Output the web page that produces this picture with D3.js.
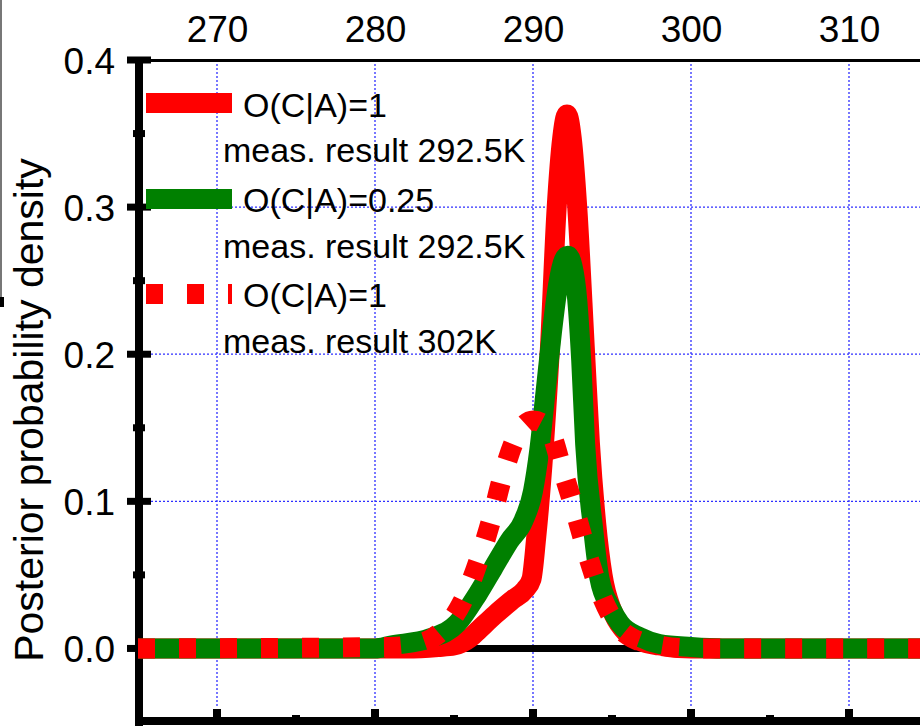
<!DOCTYPE html>
<meta charset="utf-8">
<script src="https://d3js.org/d3.v7.min.js"></script>
<style>
body {
  margin: 0;
  padding: 0;
  background: #fff;
}
svg text {
  font-family: 'Liberation Sans', Arial, sans-serif;
  fill: #000;
}
.grid {
  stroke: #2f2fff;
  stroke-width: 1.3;
  stroke-dasharray: 2,2;
}
</style>
<body>
<div id="my_dataviz"></div>
<script>

// temperature (K) vs posterior probability density
var redSolid = [[265,0],[282,0],[284,0.001],[285,0.002],[286,0.007],[286.6,0.013],[287.6,0.023],
  [288.7,0.033],[289.5,0.04],[289.9,0.047],[290.2,0.075],[290.6,0.125],[291.05,0.2],[291.5,0.3],
  [291.85,0.347],[292.15,0.363],[292.45,0.347],[292.8,0.3],[293.3,0.2],[293.6,0.14],[294.0,0.085],
  [294.4,0.05],[295.0,0.026],[295.7,0.013],[296.8,0.005],[298,0.002],[300,0],[315,0]];

var greenSolid = [[265,0],[280,0],[281,0.002],[283.5,0.007],[285.2,0.017],[286.5,0.037],
  [287.5,0.055],[288.5,0.073],[289.4,0.087],[290.0,0.107],[290.4,0.135],[290.8,0.175],
  [291.2,0.215],[291.6,0.248],[291.95,0.264],[292.2,0.267],[292.5,0.26],[292.8,0.237],
  [293.05,0.196],[293.3,0.139],[293.8,0.082],[294.2,0.048],[294.9,0.028],[295.5,0.017],
  [296.8,0.0075],[298,0.003],[300,0.001],[302,0],[315,0]];

var redDashed = [[265,0],[281,0.001],[283,0.004],[284.5,0.015],[285.5,0.031],[286.6,0.061],
  [287.4,0.089],[288.1,0.118],[289.0,0.145],[290.0,0.155],[290.95,0.15],[291.9,0.12],
  [292.7,0.092],[293.5,0.062],[294.4,0.034],[295.3,0.016],[296.3,0.007],[298,0.002],[300,0],[315,0]];

var xTicks = [270, 280, 290, 300, 310];
var xMinor = [275, 285, 295, 305];
var yTicks = [0, 0.1, 0.2, 0.3, 0.4];
var yMinor = [0.05, 0.15, 0.25, 0.35];
var yGrid = [0.1, 0.2, 0.3];

var legendNames = ["O(C|A)=1", "O(C|A)=0.25", "O(C|A)=1"];
var legendNotes = ["meas. result 292.5K", "meas. result 292.5K", "meas. result 302K"];
var legendColors = ["#ff0000", "#008000", "#ff0000"];
var legendDash = [null, null, "17,24"];

var width = 920, height = 727;

var svg = d3.select("#my_dataviz")
  .append("svg")
    .attr("width", width)
    .attr("height", height);

var x = d3.scaleLinear()
  .domain([265, 315])
  .range([138, 928]);

var y = d3.scaleLinear()
  .domain([-0.05, 0.4])
  .range([722, 60]);

// left frame line of the original figure
svg.append("line")
  .attr("x1", 1).attr("x2", 1).attr("y1", 0).attr("y2", 298)
  .attr("stroke", "#777").attr("stroke-width", 2);
svg.append("rect")
  .attr("x", 0).attr("y", 297).attr("width", 4).attr("height", 10)
  .attr("fill", "#000");

// dotted grid
svg.selectAll("vgrid")
  .data(xTicks)
  .enter()
  .append("line")
    .attr("class", "grid")
    .attr("x1", function(d){ return x(d) })
    .attr("x2", function(d){ return x(d) })
    .attr("y1", y(0.4))
    .attr("y2", 708);

svg.selectAll("hgrid")
  .data(yGrid)
  .enter()
  .append("line")
    .attr("class", "grid")
    .attr("x1", 151)
    .attr("x2", width)
    .attr("y1", function(d){ return y(d) })
    .attr("y2", function(d){ return y(d) });

// top axis with labels
var topAxis = svg.append("g")
  .attr("transform", "translate(0," + y(0.4) + ")")
  .call(d3.axisTop(x).tickValues(xTicks).tickSize(0).tickSizeOuter(0).tickPadding(18));
topAxis.select(".domain").attr("stroke-width", 3);
topAxis.selectAll("text")
  .style("font-size", "37px");

// left axis labels
var leftAxis = svg.append("g")
  .attr("transform", "translate(139,0)")
  .call(d3.axisLeft(y).tickValues(yTicks).tickFormat(d3.format(".1f")).tickSize(0).tickPadding(24));
leftAxis.select(".domain").remove();
leftAxis.selectAll("text")
  .attr("dy", "0.36em")
  .style("font-size", "37px");

// left axis line + ticks
svg.append("line")
  .attr("x1", 139).attr("x2", 139).attr("y1", 57).attr("y2", 726)
  .attr("stroke", "#000").attr("stroke-width", 8);

svg.selectAll("ymajor")
  .data(yTicks)
  .enter()
  .append("line")
    .attr("x1", 127).attr("x2", 151)
    .attr("y1", function(d){ return y(d) })
    .attr("y2", function(d){ return y(d) })
    .attr("stroke", "#000").attr("stroke-width", 7);

svg.selectAll("yminor")
  .data(yMinor)
  .enter()
  .append("line")
    .attr("x1", 133).attr("x2", 145)
    .attr("y1", function(d){ return y(d) })
    .attr("y2", function(d){ return y(d) })
    .attr("stroke", "#000").attr("stroke-width", 7);

// bottom axis line + ticks (labels fall outside the picture)
svg.append("line")
  .attr("x1", 135).attr("x2", width).attr("y1", 721).attr("y2", 721)
  .attr("stroke", "#000").attr("stroke-width", 8);

svg.selectAll("xmajor")
  .data(xTicks)
  .enter()
  .append("line")
    .attr("x1", function(d){ return x(d) })
    .attr("x2", function(d){ return x(d) })
    .attr("y1", 709).attr("y2", 721)
    .attr("stroke", "#000").attr("stroke-width", 8);

svg.selectAll("xminor")
  .data(xMinor)
  .enter()
  .append("line")
    .attr("x1", function(d){ return x(d) })
    .attr("x2", function(d){ return x(d) })
    .attr("y1", 715).attr("y2", 721)
    .attr("stroke", "#000").attr("stroke-width", 8);

// y label
svg.append("text")
  .attr("transform", "translate(43,410) rotate(-90)")
  .attr("text-anchor", "middle")
  .style("font-size", "41px")
  .text("Posterior probability density");

// zero line
svg.append("line")
  .attr("x1", x(265)).attr("x2", width)
  .attr("y1", y(0)).attr("y2", y(0))
  .attr("stroke", "#000").attr("stroke-width", 7);

// curves
var line = d3.line()
  .x(function(d){ return x(d[0]) })
  .y(function(d){ return y(d[1]) })
  .curve(d3.curveMonotoneX);

svg.append("path")
  .datum(redSolid)
  .attr("d", line)
  .attr("fill", "none")
  .attr("stroke", "#ff0000")
  .attr("stroke-width", 20)
  .attr("stroke-linejoin", "round");

svg.append("path")
  .datum(greenSolid)
  .attr("d", line)
  .attr("fill", "none")
  .attr("stroke", "#008000")
  .attr("stroke-width", 20)
  .attr("stroke-linejoin", "round");

svg.append("path")
  .datum(redDashed)
  .attr("d", line)
  .attr("fill", "none")
  .attr("stroke", "#ff0000")
  .attr("stroke-width", 20)
  .attr("stroke-dasharray", "17,24");

// legend
var legendY = [103, 199, 294];

svg.selectAll("legline")
  .data(legendNames)
  .enter()
  .append("line")
    .attr("x1", 146).attr("x2", 232)
    .attr("y1", function(d,i){ return legendY[i] })
    .attr("y2", function(d,i){ return legendY[i] })
    .attr("stroke", function(d,i){ return legendColors[i] })
    .attr("stroke-width", 20)
    .attr("stroke-dasharray", function(d,i){ return legendDash[i] });

svg.selectAll("legname")
  .data(legendNames)
  .enter()
  .append("text")
    .attr("x", 243)
    .attr("y", function(d,i){ return 117 + i*95 })
    .style("font-size", "34px")
    .text(function(d){ return d });

svg.selectAll("legnote")
  .data(legendNotes)
  .enter()
  .append("text")
    .attr("x", 223)
    .attr("y", function(d,i){ return 162 + i*95.5 })
    .style("font-size", "34px")
    .text(function(d){ return d });

</script>
</body>
